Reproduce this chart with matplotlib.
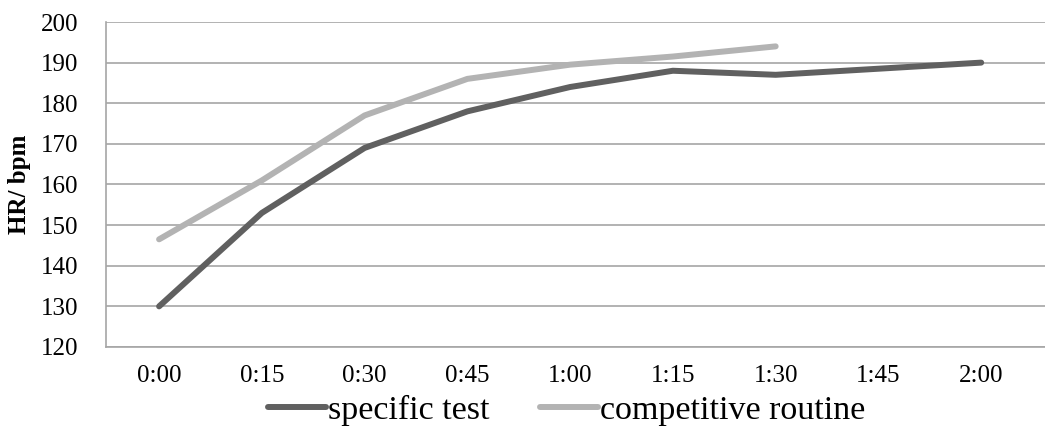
import matplotlib.pyplot as plt

plt.rcParams['font.family'] = ['Liberation Serif', 'DejaVu Serif']

times = ['0:00', '0:15', '0:30', '0:45', '1:00', '1:15', '1:30', '1:45', '2:00']
specific_test = [130, 153, 169, 178, 184, 188, 187, 188.5, 190]
competitive_routine = [146.5, 161, 177, 186, 189.5, 191.5, 194]

fig = plt.figure(figsize=(10.45, 4.4), dpi=100)
ax = fig.add_axes([0.1014, 0.2114, 0.9, 0.7386])

x_spec = list(range(len(specific_test)))
x_comp = list(range(len(competitive_routine)))
ax.plot(x_spec, specific_test, color='#606060', linewidth=4.3,
        solid_capstyle='round', solid_joinstyle='round', label='specific test')
ax.plot(x_comp, competitive_routine, color='#b3b3b3', linewidth=4.3,
        solid_capstyle='round', solid_joinstyle='round', label='competitive routine')

ax.set_ylim(120, 200)
ax.set_yticks(range(120, 201, 10))
ax.set_xlim(-0.517, 8.635)
ax.set_xticks(range(len(times)))
ax.set_xticklabels(times)
ax.tick_params(length=0, labelsize=18, pad=13)
ax.tick_params(axis='y', pad=20)
ax.grid(axis='y', color='#a6a6a6', linewidth=1.2)
ax.set_axisbelow(True)
for side in ['top', 'right']:
    ax.spines[side].set_visible(False)
for side in ['left', 'bottom']:
    ax.spines[side].set_color('#a6a6a6')
    ax.spines[side].set_linewidth(1.2)

ax.set_ylabel('HR/ bpm', fontsize=18, fontweight='bold', labelpad=7)

ax.legend(loc='center', bbox_to_anchor=(0.49, -0.195), ncol=2,
          frameon=False, fontsize=24.5, handlelength=1.7, handletextpad=0.05,
          columnspacing=1.5, borderpad=0)

fig.savefig('out.png', dpi=100)
